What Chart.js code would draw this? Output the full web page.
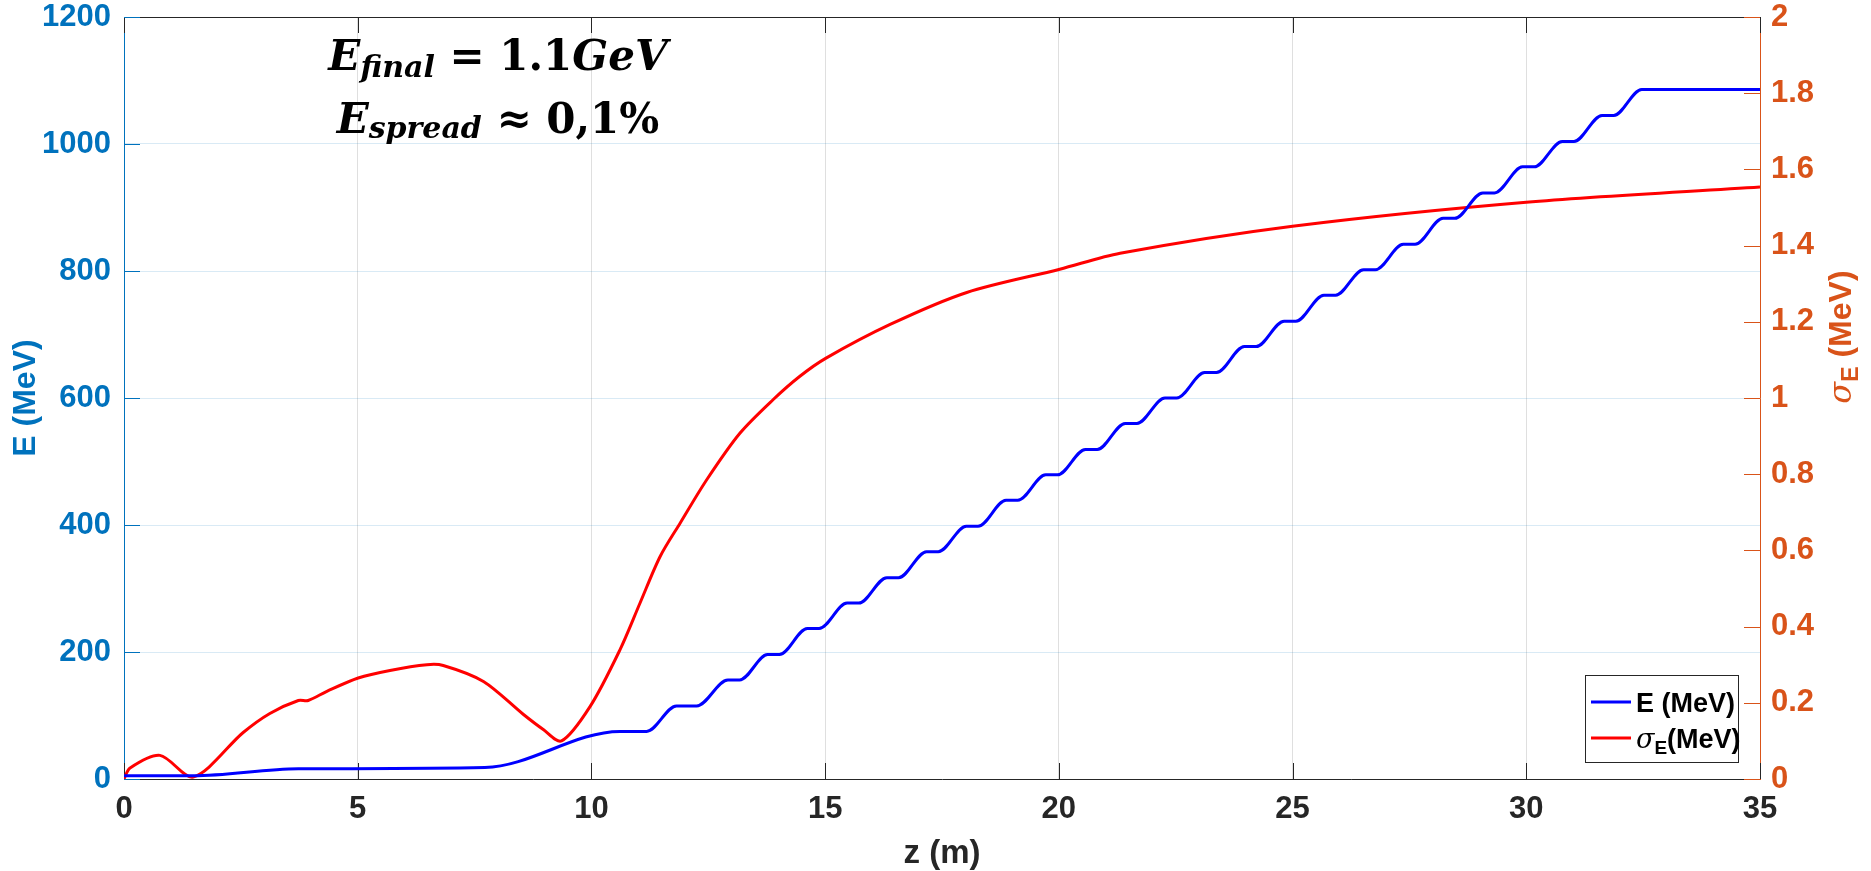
<!DOCTYPE html>
<html>
<head>
<meta charset="utf-8">
<script src="https://cdn.jsdelivr.net/npm/chart.js@4.4.1/dist/chart.umd.min.js"></script>
<style>
  html, body { margin: 0; padding: 0; background: #fff; }
  #wrap { width: 1871px; height: 871px; }
</style>
</head>
<body>
<div id="wrap"><canvas id="beamChart" width="1871" height="871"></canvas></div>
<script>
// beam energy along the linac: z (m) and E (MeV)
const zE = [0, 1.48, 3.73, 7.72, 10.61, 11.18,
  11.82, 12.25, 12.92, 13.17, 13.77, 14.02, 14.62, 14.87, 15.47, 15.72,
  16.32, 16.57, 17.17, 17.42, 18.02, 18.27, 18.87, 19.12, 19.72, 19.97,
  20.57, 20.82, 21.42, 21.67, 22.27, 22.52, 23.12, 23.37, 23.97, 24.22,
  24.82, 25.07, 25.67, 25.92, 26.52, 26.77, 27.37, 27.62, 28.22, 28.47,
  29.07, 29.32, 29.92, 30.17, 30.77, 31.02, 31.62, 31.87, 32.47, 35];
const energyMeV = [5, 5, 16, 18, 75, 75,
  115, 115, 156, 156, 196, 196, 237, 237, 277, 277,
  317, 317, 358, 358, 398, 398, 439, 439, 479, 479,
  519, 519, 560, 560, 600, 600, 640, 640, 681, 681,
  721, 721, 762, 762, 802, 802, 842, 842, 883, 883,
  923, 923, 964, 964, 1004, 1004, 1045, 1045, 1086, 1086];

// energy spread: z (m) and sigma_E (MeV)
const zSigma = [0, 0.13, 0.77, 1.48, 2.55, 3.12, 3.73, 3.94, 4.34, 5.01,
  5.69, 6.48, 6.83, 7.69, 8.54, 8.97, 9.36, 9.97, 10.61, 11.04,
  11.47, 11.90, 12.47, 13.18, 13.89, 14.46, 15.01, 16.39, 18.03, 20.02,
  21.31, 25.0, 30.0, 35];
const sigmaMeV = [0, 0.029, 0.062, 0.005, 0.122, 0.172, 0.206, 0.206, 0.23, 0.265,
  0.285, 0.300, 0.298, 0.256, 0.170, 0.130, 0.100, 0.190, 0.339, 0.462,
  0.584, 0.672, 0.786, 0.908, 0.996, 1.057, 1.104, 1.193, 1.277, 1.338,
  1.380, 1.451, 1.514, 1.554];

const BLUE_AX = 'rgb(0,114,189)';
const ORANGE_AX = 'rgb(217,83,25)';
const DARK = 'rgb(38,38,38)';
const SANS = '"Liberation Sans", Arial, sans-serif';
const SERIF = '"DejaVu Serif", serif';
const tickFont = { family: SANS, size: 31, weight: 'bold' };

// draws a run of text pieces with their own fonts (used for subscripts)
function drawRich(ctx, parts, x, y, align) {
  let total = 0;
  parts.forEach(p => { ctx.font = p.font; p.w = ctx.measureText(p.text).width; total += p.w; });
  let cx = align === 'center' ? x - total / 2 : x;
  ctx.textAlign = 'left';
  ctx.textBaseline = 'alphabetic';
  parts.forEach(p => {
    ctx.font = p.font;
    ctx.fillText(p.text, cx, y + (p.dy || 0));
    cx += p.w;
  });
}

// matlab style ticks pointing into the plot box, plus the top edge
const insideTicks = {
  id: 'insideTicks',
  beforeDatasetsDraw(chart) {
    const { ctx, chartArea: a, scales } = chart;
    const len = 16;
    ctx.save();
    ctx.lineWidth = 1;
    ctx.strokeStyle = DARK;
    ctx.beginPath();
    ctx.moveTo(a.left, a.top + 0.5);
    ctx.lineTo(a.right, a.top + 0.5);
    scales.x.ticks.forEach(t => {
      const px = Math.round(scales.x.getPixelForValue(t.value)) + 0.5;
      ctx.moveTo(px, a.bottom);
      ctx.lineTo(px, a.bottom - len);
      ctx.moveTo(px, a.top);
      ctx.lineTo(px, a.top + len);
    });
    ctx.stroke();

    ctx.strokeStyle = BLUE_AX;
    ctx.beginPath();
    scales.y.ticks.forEach(t => {
      const py = Math.round(scales.y.getPixelForValue(t.value)) + 0.5;
      ctx.moveTo(a.left, py);
      ctx.lineTo(a.left + len, py);
    });
    ctx.stroke();

    ctx.strokeStyle = ORANGE_AX;
    ctx.beginPath();
    scales.y2.ticks.forEach(t => {
      const py = Math.round(scales.y2.getPixelForValue(t.value)) + 0.5;
      ctx.moveTo(a.right, py);
      ctx.lineTo(a.right - len, py);
    });
    ctx.stroke();
    ctx.restore();
  }
};

// axis titles, legend and the energy note
const labels = {
  id: 'labels',
  afterDraw(chart) {
    const { ctx, chartArea: a, scales } = chart;
    ctx.save();

    ctx.fillStyle = DARK;
    ctx.font = 'bold 33px ' + SANS;
    ctx.textAlign = 'center';
    ctx.textBaseline = 'alphabetic';
    ctx.fillText('z (m)', (a.left + a.right) / 2, 863);

    ctx.save();
    ctx.translate(35, (a.top + a.bottom) / 2);
    ctx.rotate(-Math.PI / 2);
    ctx.fillStyle = BLUE_AX;
    ctx.font = 'bold 32px ' + SANS;
    ctx.fillText('E (MeV)', 0, 0);
    ctx.restore();

    ctx.save();
    ctx.translate(chart.width - 20, a.top + (a.bottom - a.top) * 0.42);
    ctx.rotate(-Math.PI / 2);
    ctx.fillStyle = ORANGE_AX;
    drawRich(ctx, [
      { text: 'σ', font: 'italic 32px ' + SERIF },
      { text: 'E', font: 'bold 23px ' + SANS, dy: 7 },
      { text: ' (MeV)', font: 'bold 32px ' + SANS }
    ], 0, 0, 'center');
    ctx.restore();

    // legend box
    const bw = 153, bh = 87;
    const bx = a.right - 22 - bw, by = a.bottom - 17 - bh;
    ctx.fillStyle = '#fff';
    ctx.fillRect(bx, by, bw, bh);
    ctx.strokeStyle = DARK;
    ctx.lineWidth = 1;
    ctx.strokeRect(Math.round(bx) + 0.5, Math.round(by) + 0.5, bw, bh);
    const rows = [by + 27, by + 63];
    chart.data.datasets.forEach((ds, i) => {
      ctx.strokeStyle = ds.borderColor;
      ctx.lineWidth = 3;
      ctx.beginPath();
      ctx.moveTo(bx + 6, rows[i]);
      ctx.lineTo(bx + 46, rows[i]);
      ctx.stroke();
      ctx.fillStyle = '#000';
      const parts = ds.legendParts.map(p => Object.assign({}, p));
      drawRich(ctx, parts, bx + 51, rows[i] + 10, 'left');
    });

    // energy note
    ctx.fillStyle = '#000';
    const nx = scales.x.getPixelForValue(8);
    drawRich(ctx, [
      { text: 'E', font: 'bold italic 42px ' + SERIF },
      { text: 'final', font: 'bold italic 30px ' + SERIF, dy: 7 },
      { text: ' = 1.1', font: 'bold 42px ' + SERIF },
      { text: 'GeV', font: 'bold italic 42px ' + SERIF }
    ], nx, scales.y.getPixelForValue(1117), 'center');
    drawRich(ctx, [
      { text: 'E', font: 'bold italic 42px ' + SERIF },
      { text: 'spread', font: 'bold italic 30px ' + SERIF, dy: 5 },
      { text: ' ≈ 0,1%', font: 'bold 42px ' + SERIF }
    ], nx, scales.y.getPixelForValue(1018), 'center');

    ctx.restore();
  }
};

const toPoints = (xs, ys) => xs.map((x, i) => ({ x: x, y: ys[i] }));

new Chart(document.getElementById('beamChart'), {
  type: 'line',
  data: {
    datasets: [{
      label: 'E (MeV)',
      legendParts: [{ text: 'E (MeV)', font: 'bold 27px ' + SANS }],
      data: toPoints(zE, energyMeV),
      borderColor: '#0000ff',
      borderWidth: 3,
      pointRadius: 0,
      cubicInterpolationMode: 'monotone',
      yAxisID: 'y'
    }, {
      label: 'σE(MeV)',
      legendParts: [
        { text: 'σ', font: 'italic 27px ' + SERIF },
        { text: 'E', font: 'bold 19px ' + SANS, dy: 6 },
        { text: '(MeV)', font: 'bold 27px ' + SANS }
      ],
      data: toPoints(zSigma, sigmaMeV),
      borderColor: '#ff0000',
      borderWidth: 3,
      pointRadius: 0,
      tension: 0.3,
      yAxisID: 'y2'
    }]
  },
  options: {
    responsive: false,
    animation: false,
    devicePixelRatio: 1,
    layout: { padding: { top: 17, left: 0, right: 0, bottom: 0 } },
    plugins: { legend: { display: false }, tooltip: { enabled: false } },
    scales: {
      x: {
        type: 'linear', min: 0, max: 35,
        ticks: { stepSize: 5, color: DARK, font: tickFont, padding: 12, maxRotation: 0 },
        grid: { color: 'rgba(38,38,38,0.15)', drawTicks: false },
        border: { color: DARK, width: 1 },
        afterFit: s => { s.height = 92; s.paddingLeft = 0; s.paddingRight = 0; }
      },
      y: {
        position: 'left', min: 0, max: 1200,
        ticks: { stepSize: 200, color: BLUE_AX, font: tickFont, padding: 13, callback: v => String(v) },
        grid: { color: 'rgba(0,114,189,0.15)', drawTicks: false },
        border: { color: BLUE_AX, width: 1 },
        afterFit: s => { s.width = 124; s.paddingTop = 0; s.paddingBottom = 0; }
      },
      y2: {
        position: 'right', min: 0, max: 2,
        ticks: { stepSize: 0.2, color: ORANGE_AX, font: tickFont, padding: 11, callback: v => String(+v.toFixed(1)) },
        grid: { drawOnChartArea: false, drawTicks: false },
        border: { color: ORANGE_AX, width: 1 },
        afterFit: s => { s.width = 111; s.paddingTop = 0; s.paddingBottom = 0; }
      }
    }
  },
  plugins: [insideTicks, labels]
});
</script>
</body>
</html>
